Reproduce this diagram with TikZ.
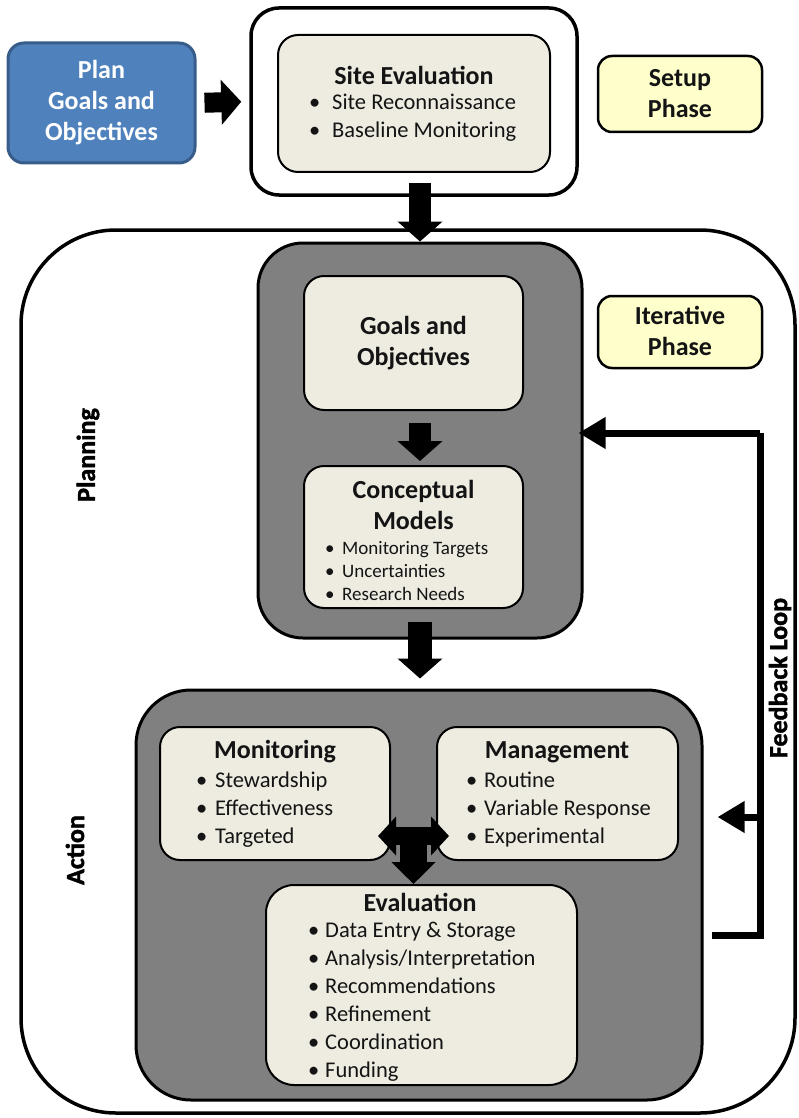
\documentclass[tikz,border=0pt]{standalone}
\usepackage{fontspec}
\setmainfont{Carlito}
\newfontfamily\heavyfont[FakeBold=1.6]{Carlito}
\usepackage{tikz}
\usetikzlibrary{
  arrows.meta,
  positioning
}
\definecolor{planblue}{RGB}{79, 129, 189}
\definecolor{planborder}{RGB}{56, 93, 138}
\definecolor{beigefill}{RGB}{238, 236, 225}
\definecolor{phaseyellow}{RGB}{255, 255, 204}
\definecolor{stagegray}{RGB}{128, 128, 128}
\definecolor{labelcolor}{RGB}{20, 20, 20}
\newcommand{\bul}[1][18pt]{\makebox[#1][l]{\textbullet}}
\tikzset{
titletext/.style={
  font=\bfseries\fontsize{26}{31}\selectfont,
  text=labelcolor,
  align=center,
  inner sep=0pt
},
bullettext/.style={
  font=\fontsize{22.5}{28}\selectfont,
  text=labelcolor,
  align=left,
  anchor=west,
  inner sep=0pt
},
smallbullettext/.style={
  font=\fontsize{19}{23}\selectfont,
  text=labelcolor,
  align=left,
  anchor=west,
  inner sep=0pt
},
sidelabel/.style={
  font=\heavyfont\bfseries\fontsize{26}{30}\selectfont,
  rotate=90,
  inner sep=0pt
},
frame/.style={
  draw=black,
  line width=3.5pt,
  inner sep=0pt
},
stagebox/.style={
  draw=black,
  line width=3pt,
  fill=stagegray,
  inner sep=0pt
},
itembox/.style={
  draw=black,
  line width=2pt,
  fill=beigefill,
  rounded corners=20pt,
  inner sep=0pt
},
phasebox/.style={
  draw=black,
  line width=2.5pt,
  fill=phaseyellow,
  rounded corners=14pt,
  inner sep=0pt
},
fatarrow/.style={
  draw=black,
  line width=22pt,
  -{Triangle[length=20pt,width=44pt]}
},
dblarrow/.style={
  draw=black,
  line width=18pt,
  {Triangle[length=18pt,width=38pt]}-{Triangle[length=18pt,width=38pt]}
},
feedline/.style={
  draw=black,
  line width=7pt
},
feedarrow/.style={
  feedline,
  -{Triangle[length=27pt,width=30pt]}
}
}
\begin{document}
\begin{tikzpicture}[x=1pt,y=-1pt]
  \useasboundingbox (0,0) rectangle (799,1118);
  % frames
  \node[frame, rounded corners=95pt, minimum width=774pt, minimum height=883pt] (iterframe) at (408,671.5) {};
  \node[frame, rounded corners=28pt, minimum width=326pt, minimum height=187pt] (setupframe) at (414,101.5) {};
  % setup phase
  \node[draw=planborder, line width=3pt, fill=planblue, rounded corners=16pt, minimum width=187pt, minimum height=120pt] (plan) at (101.5,103) {};
  \node[itembox, minimum width=272pt, minimum height=137pt] (site) at (414,103.5) {};
  \node[phasebox, minimum width=164pt, minimum height=76pt] (setup) at (680,94) {};
  % planning and action blocks
  \node[stagebox, rounded corners=45pt, minimum width=324pt, minimum height=395pt] (planning) at (420,440.5) {};
  \node[itembox, minimum width=219pt, minimum height=134pt] (goals) at (413.5,343) {};
  \node[itembox, minimum width=219pt, minimum height=142pt] (concept) at (413.5,537) {};
  \node[stagebox, rounded corners=55pt, minimum width=566pt, minimum height=410pt] (action) at (419,895) {};
  \node[itembox, minimum width=230pt, minimum height=133pt] (monitor) at (275,793.5) {};
  \node[itembox, minimum width=241pt, minimum height=133pt] (manage) at (557.5,793.5) {};
  \node[itembox, rounded corners=28pt, minimum width=311pt, minimum height=200pt] (evaluate) at (421.5,985) {};
  % texts
  \node[titletext, text=white] (plantext) at (101.5,103) {Plan\\Goals and\\Objectives};
  \node[titletext] (sitetitle) at (414,75) {Site Evaluation};
  \node[bullettext] (sitelist) at (309,118) {\bul[23pt]Site Reconnaissance\\\bul[23pt]Baseline Monitoring};
  \node[titletext] (setuptext) at (680,94) {Setup\\Phase};
  \node[phasebox, minimum width=164pt, minimum height=72pt] (iterative) at (680,332) {};
  \node[titletext] (iterativetext) at (680,331) {Iterative\\Phase};
  \node[titletext] (goalstext) at (413.5,343) {Goals and\\Objectives};
  \node[titletext] (concepttitle) at (413.5,505) {Conceptual\\Models};
  \node[smallbullettext] (conceptlist) at (325,571) {\bul[17pt]Monitoring Targets\\\bul[17pt]Uncertainties\\\bul[17pt]Research Needs};
  \node[titletext] (monitortitle) at (275,752) {Monitoring};
  \node[bullettext] (monitorlist) at (196,810) {\bul[19pt]Stewardship\\\bul[19pt]Effectiveness\\\bul[19pt]Targeted};
  \node[titletext] (managetitle) at (557,752) {Management};
  \node[bullettext] (managelist) at (466,810) {\bul[18pt]Routine\\\bul[18pt]Variable Response\\\bul[18pt]Experimental};
  \node[titletext] (evaluatetitle) at (420,902) {Evaluation};
  \node[bullettext] (evaluatelist) at (308,1001.5) {\bul[17pt]Data Entry \& Storage\\\bul[17pt]Analysis/Interpretation\\\bul[17pt]Recommendations\\\bul[17pt]Refinement\\\bul[17pt]Coordination\\\bul[17pt]Funding};
  \node[sidelabel] (planninglabel) at (88,455) {Planning};
  \node[sidelabel] (actionlabel) at (75,850) {Action};
  \node[sidelabel] (feedbacklabel) at (780,678) {Feedback Loop};
  % block arrows
  \draw[fatarrow, line width=20pt, shorten <=8pt, shorten >=8pt] (plan.east) -- (setupframe.west);
  \draw[fatarrow, shorten <=10pt] (site.south -| 420,0) -- (planning.north -| 420,0);
  \draw[fatarrow, shorten <=12pt, shorten >=4pt] (goals.south -| 420,0) -- (concept.north -| 420,0);
  \draw[fatarrow, line width=24pt, shorten <=-18pt, shorten >=10pt] (planning.south) -- (action.north -| planning.south);
  \coordinate (hub) at (413.5,836);
  \draw[dblarrow] ([xshift=-13pt]monitor.east |- hub) -- ([xshift=13pt]manage.west |- hub);
  \draw[fatarrow, line width=27pt, -{Triangle[length=22pt,width=43pt]}] (hub) -- (evaluate.north -| hub);
  % feedback loop
  \coordinate (fbstart) at (712,935);
  \coordinate (fbcorner) at (760,433);
  \coordinate (fbbranch) at (760,817);
  \draw[feedline] (fbstart) -| (fbcorner);
  \draw[feedarrow, shorten >=-5pt] (fbcorner) -- (planning.east |- fbcorner);
  \draw[feedarrow] (fbbranch) -- ([xshift=14pt]action.east |- fbbranch);
\end{tikzpicture}
\end{document}
